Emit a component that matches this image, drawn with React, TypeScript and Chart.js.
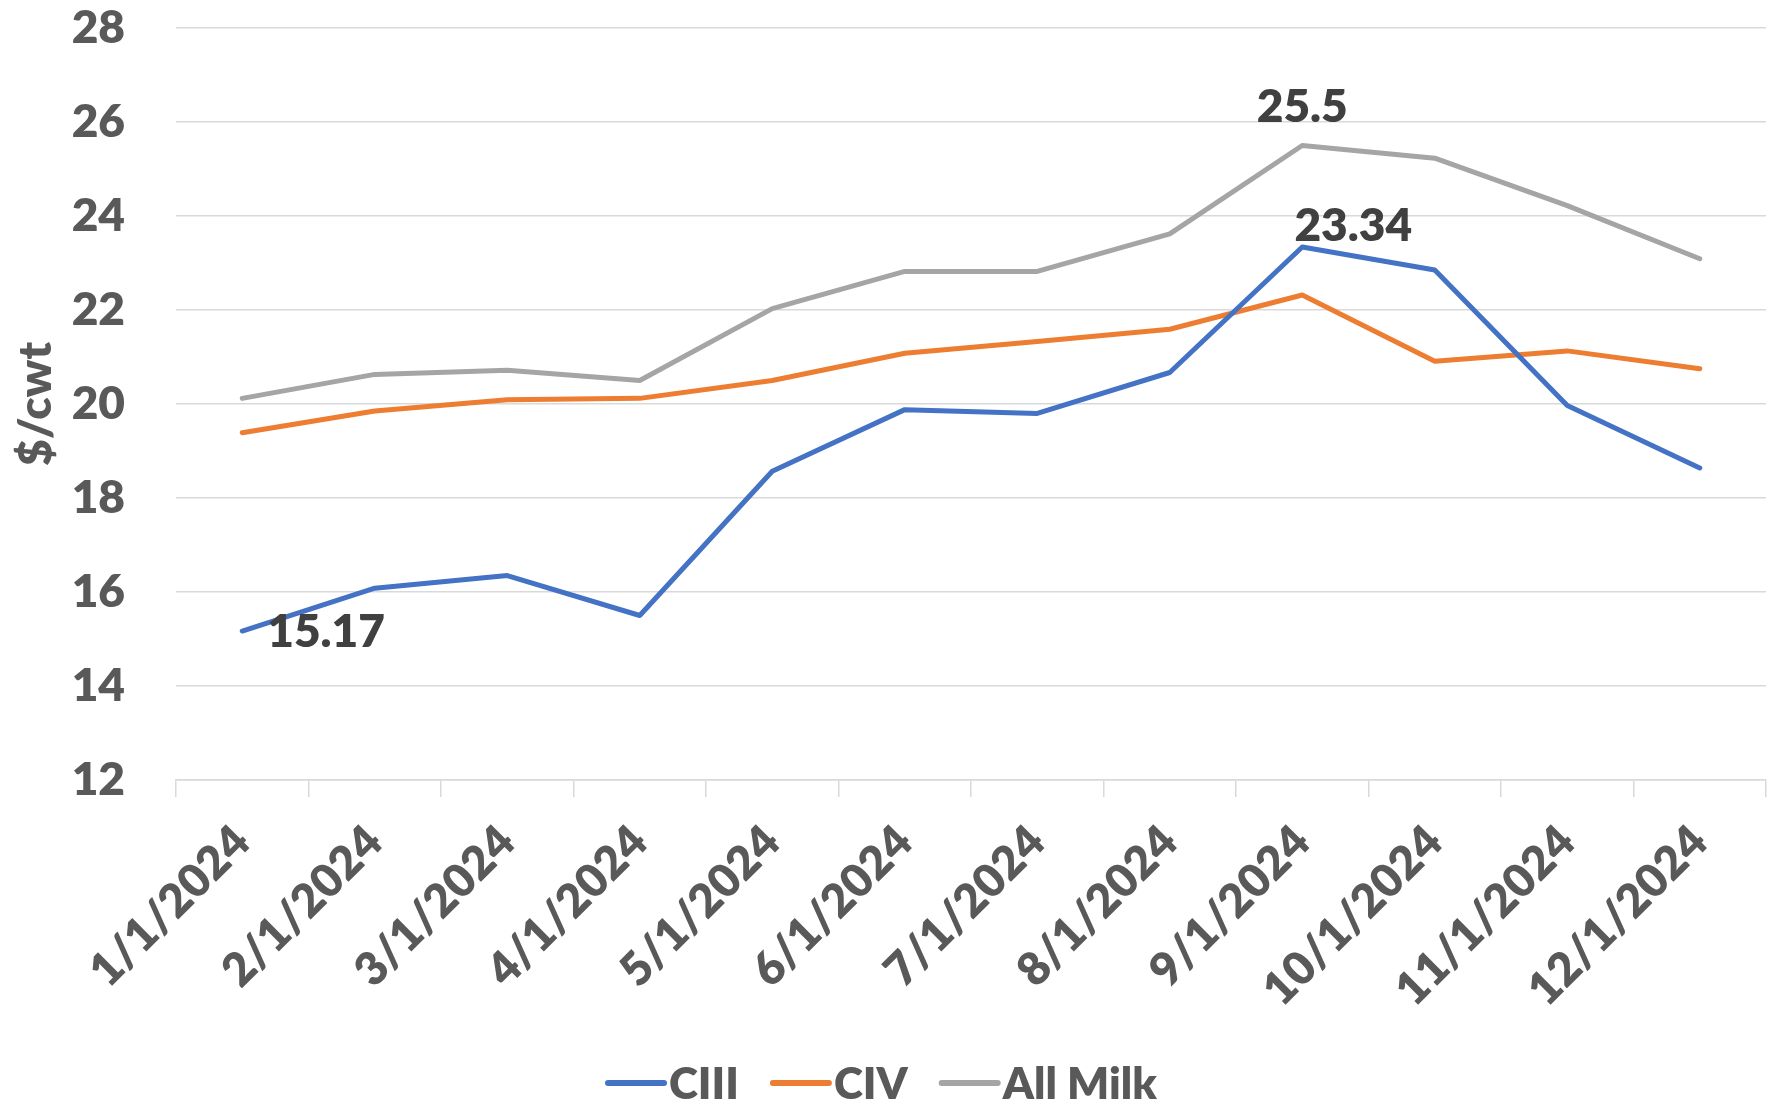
import React, { useEffect, useRef } from "react";
import { Chart, registerables } from "chart.js";

Chart.register(...registerables);

const categories = [
  "1/1/2024", "2/1/2024", "3/1/2024", "4/1/2024", "5/1/2024", "6/1/2024",
  "7/1/2024", "8/1/2024", "9/1/2024", "10/1/2024", "11/1/2024", "12/1/2024",
];
const ciii = [15.17, 16.08, 16.35, 15.5, 18.57, 19.88, 19.8, 20.67, 23.34, 22.85, 19.97, 18.64];
const civ = [19.39, 19.85, 20.09, 20.12, 20.5, 21.08, 21.33, 21.59, 22.32, 20.91, 21.13, 20.75];
const allMilk = [20.12, 20.63, 20.72, 20.5, 22.03, 22.82, 22.82, 23.62, 25.5, 25.23, 24.22, 23.09];
const seriesNames = ["CIII", "CIV", "All Milk"];
const seriesColors = ["#4472C4", "#ED7D31", "#A5A5A5"];
const yTicks = { min: 12, max: 28, step: 2 };
// labelled points: [datasetIndex, pointIndex, dx, dy, align]
const pointLabels: [number, number, number, number, CanvasTextAlign][] = [
  [0, 0, 25, 1, "left"],
  [0, 8, 51, -21, "center"],
  [2, 8, 0, -38, "center"],
];

const FONT = "Lato, 'Open Sans', sans-serif";
const WEIGHT = 800;
const AXIS_COLOR = "#595959";
const GRID = "#D9D9D9";

const labelPlugin = {
  id: "pointLabels",
  afterDatasetsDraw(chart: any) {
    const ctx = chart.ctx;
    ctx.save();
    ctx.font = `${WEIGHT} 46px ${FONT}`;
    ctx.fillStyle = "#404040";
    ctx.textBaseline = "middle";
    for (const [ds, i, dx, dy, align] of pointLabels) {
      const el = chart.getDatasetMeta(ds).data[i];
      const v = chart.data.datasets[ds].data[i];
      ctx.textAlign = align;
      ctx.fillText(String(v), el.x + dx, el.y + dy);
    }
    ctx.restore();
  },
};

const legendPlugin = {
  id: "customLegend",
  afterDraw(chart: any) {
    const ctx = chart.ctx;
    ctx.save();
    ctx.font = `${WEIGHT} 44px ${FONT}`;
    ctx.textBaseline = "middle";
    ctx.textAlign = "left";
    let x = 608;
    const y = 1083;
    chart.data.datasets.forEach((ds: any) => {
      ctx.strokeStyle = ds.borderColor;
      ctx.lineWidth = 6;
      ctx.lineCap = "round";
      ctx.beginPath();
      ctx.moveTo(x, y);
      ctx.lineTo(x + 56, y);
      ctx.stroke();
      x += 61;
      const w = ctx.measureText(ds.label).width;
      ctx.fillStyle = AXIS_COLOR;
      ctx.fillText(ds.label, x, y + 2);
      x += w + 34;
    });
    ctx.restore();
  },
};

export default function App() {
  const ref = useRef<HTMLCanvasElement | null>(null);
  useEffect(() => {
    document.body.style.margin = "0";
    const canvas = ref.current!;
    const data = [ciii, civ, allMilk];
    const chart = new Chart(canvas, {
      type: "line",
      data: {
        labels: categories,
        datasets: data.map((d, k) => ({
          label: seriesNames[k],
          data: d,
          borderColor: seriesColors[k],
          backgroundColor: seriesColors[k],
          borderWidth: 5,
          pointRadius: 0,
          tension: 0,
          borderCapStyle: "round",
          borderJoinStyle: "round",
          fill: false,
        })),
      },
      options: {
        responsive: false,
        animation: false,
        layout: { autoPadding: false, padding: { top: 28, right: 13, left: 0, bottom: 0 } },
        plugins: { legend: { display: false }, tooltip: { enabled: false } },
        scales: {
          x: {
            offset: true,
            grid: { offset: true, drawOnChartArea: false, drawTicks: true, tickLength: 17, color: GRID, lineWidth: 1.5 },
            border: { display: true, color: GRID, width: 1.5 },
            ticks: {
              minRotation: 45,
              maxRotation: 45,
              autoSkip: false,
              padding: 18,
              color: AXIS_COLOR,
              font: { family: FONT, size: 46, weight: WEIGHT },
            },
            afterFit: (s: any) => { s.height = 324; },
          },
          y: {
            min: yTicks.min,
            max: yTicks.max,
            ticks: {
              stepSize: yTicks.step,
              padding: 0,
              color: AXIS_COLOR,
              font: { family: FONT, size: 46, weight: WEIGHT, lineHeight: 1 },
            },
            grid: { color: GRID, lineWidth: 1.5, drawTicks: true, tickLength: 51, tickColor: "rgba(0,0,0,0)" },
            border: { display: false },
            title: {
              display: true,
              text: "$/cwt",
              color: AXIS_COLOR,
              font: { family: FONT, size: 46, weight: WEIGHT, lineHeight: 1.2 },
              padding: { top: 9, bottom: 0 },
            },
            afterFit: (s: any) => { s.width = 176; },
          },
        },
      },
      plugins: [labelPlugin, legendPlugin],
    } as any);
    return () => chart.destroy();
  }, []);
  return (
    <div style={{ position: "absolute", left: 0, top: 0, width: 1779, height: 1104, background: "#fff" }}>
      <canvas ref={ref} width={1779} height={1104} style={{ display: "block" }} />
    </div>
  );
}
